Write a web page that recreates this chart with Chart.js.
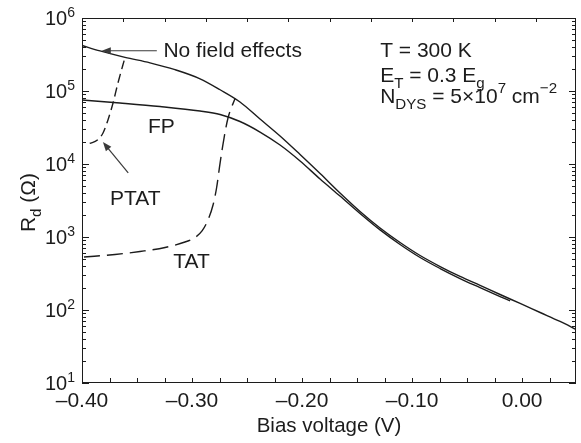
<!DOCTYPE html>
<html>
<head>
<meta charset="utf-8">
<script src="https://cdn.jsdelivr.net/npm/chart.js@4.4.0/dist/chart.umd.min.js"></script>
<style>
  html, body { margin: 0; padding: 0; background: #fff; }
  canvas { display: block; }
</style>
</head>
<body>
<canvas id="rdChart" width="581" height="443"></canvas>
<script>
// bias voltage (V) and differential resistance (ohm)
const noFieldV = [-0.400, -0.3836, -0.3609, -0.3382, -0.3155, -0.2927, -0.2745, -0.2564, -0.2382, -0.2200, -0.2018, -0.1836, -0.1655, -0.1473, -0.1291, -0.1109, -0.0927, -0.0745, -0.0564, -0.0382, -0.0200, -0.0018, 0.0164, 0.0345, 0.0500];
const noFieldR = [4.20e5, 3.54e5, 2.89e5, 2.43e5, 1.96e5, 1.47e5, 1.04e5, 7.07e4, 4.13e4, 2.42e4, 1.35e4, 7.41e3, 4.01e3, 2.24e3, 1.33e3, 841, 558, 394, 288, 217, 163, 123, 92.4, 69.6, 53.2];

const fpV = [-0.400, -0.3655, -0.3291, -0.2927, -0.2745, -0.2564, -0.2382, -0.2200, -0.2018, -0.1836, -0.1655, -0.1473, -0.1291, -0.1109, -0.0927, -0.0745, -0.0564, -0.0382, -0.0200, -0.0109];
const fpR = [7.53e4, 6.85e4, 6.13e4, 5.32e4, 4.77e4, 3.82e4, 2.74e4, 1.82e4, 1.10e4, 6.23e3, 3.64e3, 2.10e3, 1.25e3, 790, 524, 370, 270, 203, 153, 133];

const ptatV = [-0.393, -0.386, -0.3809, -0.3764, -0.3718, -0.3673, -0.3609];
const ptatR = [1.91e4, 2.13e4, 2.66e4, 4.01e4, 6.85e4, 1.29e5, 2.89e5];

const tatV = [-0.3982, -0.370, -0.3473, -0.3245, -0.3064, -0.2973, -0.2909, -0.2855, -0.2809, -0.2777, -0.2745, -0.2709, -0.2673, -0.2609];
const tatR = [532, 576, 633, 718, 854, 984, 1.21e3, 1.71e3, 2.74e3, 4.69e3, 1.03e4, 2.27e4, 4.27e4, 7.9e4];

// axes
const xLabelTicks = [-0.4, -0.3, -0.2, -0.1, 0.0];
const xBottomTicks = [-0.4, -0.375, -0.35, -0.325, -0.3, -0.275, -0.25, -0.225, -0.2, -0.175, -0.15, -0.125, -0.1, -0.075, -0.05, -0.025, 0.0, 0.025];
const xTopTicks = [-0.4, -0.3625, -0.325, -0.2875, -0.25, -0.2125, -0.175, -0.1375, -0.1, -0.0625, -0.025, 0.0125];
const yDecades = [1e1, 1e2, 1e3, 1e4, 1e5, 1e6];
const yMinorSteps = [2, 3, 4, 5, 6, 7, 8, 9];

const FONT = '"Liberation Sans", Arial, Helvetica, sans-serif';
const INK = '#1c1c1c';

const toPoints = (xs, ys) => xs.map((x, i) => ({ x: x, y: ys[i] }));

// text with sub/superscripts: parts = [[text, 'n'|'sub'|'sup'], ...]
function drawRich(ctx, x, y, parts, size) {
    ctx.textAlign = 'left';
    ctx.textBaseline = 'alphabetic';
    parts.forEach(([t, kind]) => {
        const s = kind === 'n' ? size : size * 0.72;
        const dy = kind === 'sub' ? size * 0.3 : kind === 'sup' ? -size * 0.45 : 0;
        ctx.font = s + 'px ' + FONT;
        ctx.fillText(t, x, y + dy);
        x += ctx.measureText(t).width;
    });
}

function arrow(ctx, x1, y1, x2, y2) {
    const a = Math.atan2(y2 - y1, x2 - x1);
    const len = 9, half = 3.5;
    ctx.beginPath();
    ctx.moveTo(x1, y1);
    ctx.lineTo(x2 - Math.cos(a) * len * 0.8, y2 - Math.sin(a) * len * 0.8);
    ctx.stroke();
    ctx.beginPath();
    ctx.moveTo(x2, y2);
    ctx.lineTo(x2 - Math.cos(a) * len - Math.sin(a) * half, y2 - Math.sin(a) * len + Math.cos(a) * half);
    ctx.lineTo(x2 - Math.cos(a) * len + Math.sin(a) * half, y2 - Math.sin(a) * len - Math.cos(a) * half);
    ctx.closePath();
    ctx.fill();
}

const framePlugin = {
    id: 'frame',
    afterDraw(chart) {
        const { ctx, chartArea: a, scales: { x, y } } = chart;
        ctx.save();
        ctx.strokeStyle = INK;
        ctx.fillStyle = INK;
        ctx.lineWidth = 1;
        ctx.strokeRect(a.left + 0.5, a.top + 0.5, a.right - a.left - 1, a.bottom - a.top - 1);

        // inward tick marks
        ctx.beginPath();
        xBottomTicks.forEach(v => {
            const px = Math.round(x.getPixelForValue(v)) + 0.5;
            ctx.moveTo(px, a.bottom);
            ctx.lineTo(px, a.bottom - 5);
        });
        xTopTicks.forEach(v => {
            const px = Math.round(x.getPixelForValue(v)) + 0.5;
            ctx.moveTo(px, a.top);
            ctx.lineTo(px, a.top + 4);
        });
        yDecades.forEach((d, i) => {
            const py = Math.round(y.getPixelForValue(d)) + 0.5;
            ctx.moveTo(a.left, py); ctx.lineTo(a.left + 7, py);
            ctx.moveTo(a.right, py); ctx.lineTo(a.right - 7, py);
            if (i < yDecades.length - 1) {
                yMinorSteps.forEach(k => {
                    const pm = Math.round(y.getPixelForValue(k * d)) + 0.5;
                    ctx.moveTo(a.left, pm); ctx.lineTo(a.left + 4, pm);
                    ctx.moveTo(a.right, pm); ctx.lineTo(a.right - 4, pm);
                });
            }
        });
        ctx.stroke();

        // y tick labels 10^n
        yDecades.forEach(d => {
            const py = y.getPixelForValue(d);
            const exp = String(Math.round(Math.log10(d)));
            ctx.font = '14px ' + FONT;
            const supW = ctx.measureText(exp).width;
            const right = a.left - 7;
            ctx.textBaseline = 'alphabetic';
            ctx.textAlign = 'left';
            ctx.fillText(exp, right - supW, py - 1);
            ctx.textAlign = 'right';
            ctx.font = '20px ' + FONT;
            ctx.fillText('10', right - supW, py + 7);
        });

        // y axis title R_d (Ω)
        ctx.save();
        const size = 21;
        ctx.font = size + 'px ' + FONT;
        const wR = ctx.measureText('R').width;
        const wRest = ctx.measureText(' (\u03A9)').width;
        ctx.font = (size * 0.72) + 'px ' + FONT;
        const wd = ctx.measureText('d').width;
        const total = wR + wd + wRest;
        ctx.translate(35, (a.top + a.bottom) / 2 + total / 2 + 2);
        ctx.rotate(-Math.PI / 2);
        drawRich(ctx, 0, 0, [['R', 'n'], ['d', 'sub'], [' (\u03A9)', 'n']], size);
        ctx.restore();

        // annotations, placed in data coordinates
        const X = v => x.getPixelForValue(v);
        const Y = r => y.getPixelForValue(r);
        drawRich(ctx, X(-0.326), Y(2.9e5), [['No field effects', 'n']], 21);
        drawRich(ctx, X(-0.340), Y(2.66e4), [['FP', 'n']], 21);
        drawRich(ctx, X(-0.3745), Y(2.74e3), [['PTAT', 'n']], 21);
        drawRich(ctx, X(-0.317), Y(376), [['TAT', 'n']], 21);
        drawRich(ctx, X(-0.129), Y(2.93e5), [['T = 300 K', 'n']], 21);
        drawRich(ctx, X(-0.129), Y(1.33e5), [['E', 'n'], ['T', 'sub'], [' = 0.3 E', 'n'], ['g', 'sub']], 21);
        drawRich(ctx, X(-0.129), Y(6.86e4), [['N', 'n'], ['DYS', 'sub'], [' = 5\u00D710', 'n'], ['7', 'sup'], [' cm', 'n'], ['\u22122', 'sup']], 21);

        ctx.strokeStyle = '#3a3a3a';
        ctx.fillStyle = '#3a3a3a';
        ctx.lineWidth = 1.2;
        arrow(ctx, X(-0.332), Y(3.56e5), X(-0.382), Y(3.56e5));
        arrow(ctx, X(-0.358), Y(7.53e3), X(-0.381), Y(2.0e4));
        ctx.restore();
    }
};

const lineStyle = {
    borderColor: INK,
    borderWidth: 1.4,
    pointRadius: 0,
    fill: false,
    cubicInterpolationMode: 'monotone'
};

new Chart(document.getElementById('rdChart'), {
    type: 'line',
    data: {
        datasets: [
            { ...lineStyle, label: 'No field effects', data: toPoints(noFieldV, noFieldR) },
            { ...lineStyle, label: 'FP', data: toPoints(fpV, fpR) },
            { ...lineStyle, label: 'PTAT', data: toPoints(ptatV, ptatR), borderDash: [9, 5] },
            { ...lineStyle, label: 'TAT', data: toPoints(tatV, tatR), borderDash: [16, 7] }
        ]
    },
    options: {
        responsive: false,
        animation: false,
        devicePixelRatio: 1,
        layout: { padding: { top: 18, right: 5, left: 0, bottom: 0 } },
        plugins: {
            legend: { display: false },
            tooltip: { enabled: false }
        },
        scales: {
            x: {
                type: 'linear',
                min: -0.4,
                max: 0.049,
                afterBuildTicks: s => { s.ticks = xLabelTicks.map(v => ({ value: v })); },
                afterFit: s => { s.height = 60; },
                grid: { display: false, drawTicks: false },
                border: { display: false },
                ticks: {
                    autoSkip: false,
                    maxRotation: 0,
                    padding: 6,
                    color: INK,
                    font: { family: FONT, size: 21 },
                    callback: v => (v < 0 ? '\u2013' : '') + Math.abs(v).toFixed(2)
                },
                title: {
                    display: true,
                    text: 'Bias voltage (V)',
                    color: INK,
                    font: { family: FONT, size: 20.5 },
                    padding: { top: 0, bottom: 4 }
                }
            },
            y: {
                type: 'logarithmic',
                min: 10,
                max: 1e6,
                afterFit: s => { s.width = 82; },
                grid: { display: false, drawTicks: false },
                border: { display: false },
                ticks: { display: false }
            }
        }
    },
    plugins: [framePlugin]
});
</script>
</body>
</html>
